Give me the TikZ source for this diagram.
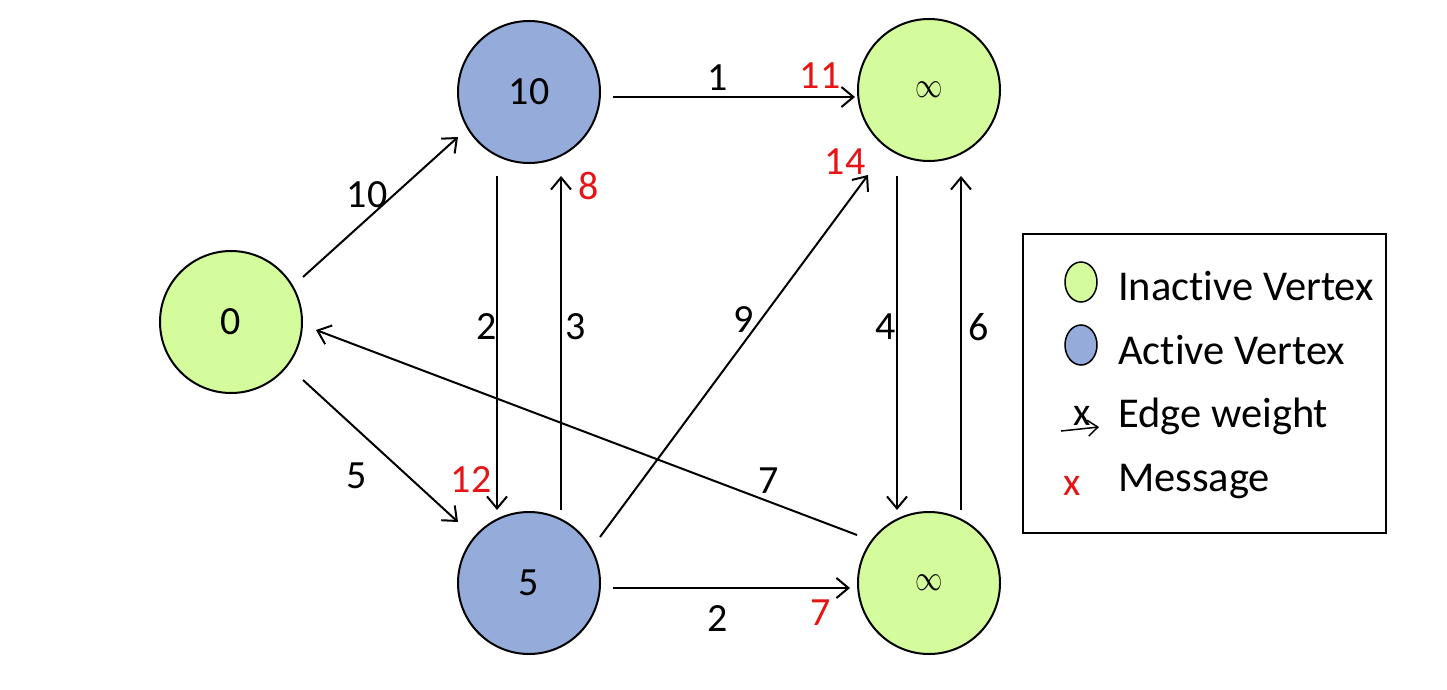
\documentclass[tikz,border=0pt]{standalone}
\usepackage{fontspec}
\setmainfont[RawFeature={-liga;-clig;-dlig}]{Carlito}
\usetikzlibrary{arrows.meta,shapes.geometric}
\definecolor{inact}{RGB}{212,252,156}
\definecolor{act}{RGB}{149,172,219}
\definecolor{msg}{RGB}{230,20,20}
\begin{document}
\begin{tikzpicture}[x=1pt,y=-1pt,
  vtx/.style={circle,draw=black,line width=2pt,minimum size=142pt,inner sep=0pt,font=\fontsize{40}{48}\selectfont},
  inactv/.style={vtx,fill=inact},
  actv/.style={vtx,fill=act},
  edge/.style={line width=2pt,-{Straight Barb[length=12pt,width=20pt,line width=2pt]}},
  wlab/.style={font=\fontsize{40}{48}\selectfont,inner sep=0pt},
  mlab/.style={font=\fontsize{40}{48}\selectfont,inner sep=0pt,text=msg},
  leg/.style={font=\fontsize{42.5}{50}\selectfont,inner sep=0pt,anchor=west}]
\useasboundingbox (0,0) rectangle (1447,690);
\newcommand{\inftext}{\scalebox{1.1}[1.45]{\fontsize{24}{24}\selectfont$\infty$}}
\node[inactv] (v0) at (231,322) {0};
\node[actv] (v10) at (529,92) {10};
\node[actv] (v5) at (529,583) {5};
\node[inactv] (va) at (929,90) {\inftext};
\node[inactv] (vb) at (929,583) {\inftext};
% edges
\draw[edge] ([shift={(72,-45)}]v0.center) -- ([shift={(-71,45)}]v10.center);
\draw[edge] ([shift={(72,58)}]v0.center) -- ([shift={(-71,-61)}]v5.center);
\draw[edge] ([shift={(-32,84)}]v10.center) -- ([shift={(-32,-73)}]v5.center);
\draw[edge] ([shift={(32,-73)}]v5.center) -- ([shift={(32,84)}]v10.center);
\draw[edge] ([shift={(84,5)}]v10.center) -- ([shift={(-74,7)}]va.center);
\draw[edge] ([shift={(71,-46)}]v5.center) -- ([shift={(-61,85)}]va.center);
\draw[edge] ([shift={(-32,86)}]va.center) -- ([shift={(-32,-73)}]vb.center);
\draw[edge] ([shift={(32,-73)}]vb.center) -- ([shift={(32,86)}]va.center);
\draw[edge] ([shift={(-72,-48)}]vb.center) -- ([shift={(85,8)}]v0.center);
\draw[edge] ([shift={(84,5)}]v5.center) -- ([shift={(-79,5)}]vb.center);
% weights
\node[wlab] (w1) at (367,195) {10};
\node[wlab] (w2) at (357,476) {5};
\node[wlab] (w3) at (487,327) {2};
\node[wlab] (w4) at (576,327) {3};
\node[wlab] (w5) at (718,78) {1};
\node[wlab] (w6) at (744,320) {9};
\node[wlab] (w7) at (886,327) {4};
\node[wlab] (w8) at (979,327) {6};
\node[wlab] (w9) at (769,481) {7};
\node[wlab] (w10) at (718,619) {2};
% messages
\node[mlab] (m1) at (471,480) {12};
\node[mlab] (m2) at (589,186) {8};
\node[mlab] (m3) at (820,76) {11};
\node[mlab] (m4) at (845,162) {14};
\node[mlab] (m5) at (821,613) {7};
% legend
\node[draw=black,line width=2pt,minimum width=363pt,minimum height=299pt,anchor=north west,inner sep=0pt] (lg) at (1022,233) {};
\node[ellipse,draw=black,line width=1.5pt,fill=inact,minimum width=32pt,minimum height=40pt,inner sep=0pt] (lg1) at (1081,282) {};
\node[ellipse,draw=black,line width=1.5pt,fill=act,minimum width=32pt,minimum height=40pt,inner sep=0pt] (lg2) at (1081,345) {};
\coordinate (la) at (1061,431);
\coordinate (lb) at (1099,427);
\node[font=\fontsize{40}{44}\selectfont,inner sep=0pt] (lx) at (1082,416) {x};
\draw[line width=1.5pt,-{Straight Barb[length=10pt,width=16pt,line width=1.5pt]}] (la) -- (lb);
\node[font=\fontsize{40}{44}\selectfont,inner sep=0pt,text=msg] (lm) at (1072,486) {x};
\node[leg] (t1) at (1118,286) {Inact\kern0pt ive Vertex};
\node[leg] (t2) at (1118,350) {Act\kern0pt ive Vertex};
\node[leg] (t3) at (1118,416) {Edge weight};
\node[leg] (t4) at (1118,482) {Message};
\end{tikzpicture}
\end{document}
